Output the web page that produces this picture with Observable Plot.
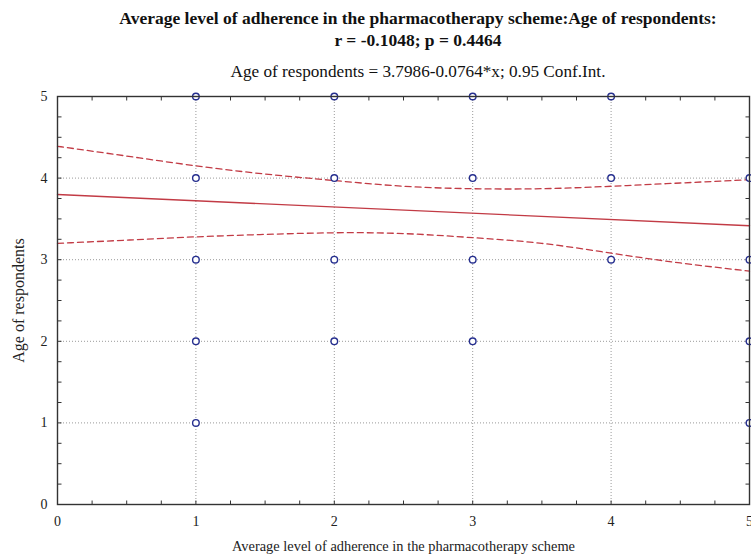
<!DOCTYPE html>
<html>
<head>
<meta charset="utf-8">
<script src="https://cdn.jsdelivr.net/npm/d3@7"></script>
<script src="https://cdn.jsdelivr.net/npm/@observablehq/plot@0.6"></script>
<style>
  html, body { margin: 0; padding: 0; background: #fff; }
  #wrap { width: 751px; height: 559px; overflow: hidden; position: relative; font-family: "Liberation Serif", "Times New Roman", serif; color: #111; }
  #head { height: 90px; box-sizing: border-box; padding-left: 85px; text-align: center; white-space: nowrap; }
  #title { padding-top: 7px; font-weight: bold; font-size: 17.5px; line-height: 22px; }
  #subtitle { margin-top: 11px; font-size: 17.2px; line-height: 20px; }
</style>
</head>
<body>
<div id="wrap">
  <div id="head">
    <div id="title">Average level of adherence in the pharmacotherapy scheme:Age of respondents:<br>r = -0.1048; p = 0.4464</div>
    <div id="subtitle">Age of respondents = 3.7986-0.0764*x; 0.95 Conf.Int.</div>
  </div>
  <div id="chart"></div>
</div>
<script>
// observed points (adherence level, age group)
const adherence = [1, 1, 1, 1, 1, 2, 2, 2, 2, 3, 3, 3, 3, 4, 4, 4, 5, 5, 5, 5];
const age       = [1, 2, 3, 4, 5, 2, 3, 4, 5, 2, 3, 4, 5, 3, 4, 5, 1, 2, 3, 4];

// regression line: Age = 3.7986 - 0.0764*x (endpoints)
const fitX = [0, 5];
const fitY = [3.7986, 3.4166];

// 95% confidence band
const ciX     = [0, 0.5, 1, 1.5, 2, 2.5, 3, 3.5, 4, 4.5, 5];
const ciUpper = [4.39, 4.27, 4.15, 4.05, 3.97, 3.90, 3.87, 3.87, 3.90, 3.94, 3.98];
const ciLower = [3.20, 3.24, 3.28, 3.31, 3.33, 3.32, 3.27, 3.20, 3.08, 2.96, 2.86];

const xTicks = [0, 1, 2, 3, 4, 5];
const yTicks = [0, 1, 2, 3, 4, 5];
const gridX = [1, 2, 3, 4];
const gridY = [1, 2, 3, 4];
const minorX = d3.range(0, 21).map(i => i / 4);
const minorY = d3.range(0, 21).map(i => i / 4);

const xLabel = "Average level of adherence in the pharmacotherapy scheme";
const yLabel = "Age of respondents";

const points = adherence.map((x, i) => ({x, y: age[i]}));
const fit = fitX.map((x, i) => ({x, y: fitY[i]}));
const upper = ciX.map((x, i) => ({x, y: ciUpper[i]}));
const lower = ciX.map((x, i) => ({x, y: ciLower[i]}));

const W = 751, H = 469;
const mL = 57, mR = 2, mT = 6, mB = 55;
const kx = 5 / (W - mL - mR);   // data units per pixel
const ky = 5 / (H - mT - mB);
const tl = 4; // tick length in px

const dark = "#333";
const red = "#c23b45";

const chart = Plot.plot({
  width: W, height: H,
  marginLeft: mL, marginRight: mR, marginTop: mT, marginBottom: mB,
  style: {fontFamily: "Liberation Serif, Times New Roman, serif", fontSize: "14px", color: "#222", background: "#fff"},
  x: {domain: [0, 5]},
  y: {domain: [0, 5]},
  marks: [
    Plot.ruleX(gridX, {stroke: "#9a9a9a", strokeDasharray: "1,2", strokeWidth: 1}),
    Plot.ruleY(gridY, {stroke: "#9a9a9a", strokeDasharray: "1,2", strokeWidth: 1}),
    // inward minor ticks on all four sides
    Plot.link(minorX, {x1: d => d, x2: d => d, y1: 0, y2: tl * ky, stroke: dark}),
    Plot.link(minorX, {x1: d => d, x2: d => d, y1: 5, y2: 5 - tl * ky, stroke: dark}),
    Plot.link(minorY, {y1: d => d, y2: d => d, x1: 0, x2: tl * kx, stroke: dark}),
    Plot.link(minorY, {y1: d => d, y2: d => d, x1: 5, x2: 5 - tl * kx, stroke: dark}),
    Plot.line(upper, {x: "x", y: "y", curve: "natural", stroke: red, strokeWidth: 1.3, strokeDasharray: "6,4"}),
    Plot.line(lower, {x: "x", y: "y", curve: "natural", stroke: red, strokeWidth: 1.3, strokeDasharray: "6,4"}),
    Plot.line(fit, {x: "x", y: "y", stroke: red, strokeWidth: 1.4}),
    Plot.dot(points, {x: "x", y: "y", r: 3.3, stroke: "#262f8f", strokeWidth: 1.4, fill: "white"}),
    Plot.frame({stroke: dark, strokeWidth: 1.4}),
    Plot.axisX(xTicks, {tickSize: 0, tickPadding: 12, tickFormat: d3.format("d"), label: null, fontSize: 14}),
    Plot.axisY(yTicks, {tickSize: 0, tickPadding: 10, tickFormat: d3.format("d"), label: null, fontSize: 14}),
    Plot.text([xLabel], {text: d => d, frameAnchor: "bottom", dy: 46, fontSize: 14.4, fill: "#222"}),
    Plot.text([yLabel], {text: d => d, frameAnchor: "left", textAnchor: "middle", dx: -39, rotate: -90, fontSize: 16, fill: "#222"})
  ]
});
document.getElementById("chart").appendChild(chart);
</script>
</body>
</html>
